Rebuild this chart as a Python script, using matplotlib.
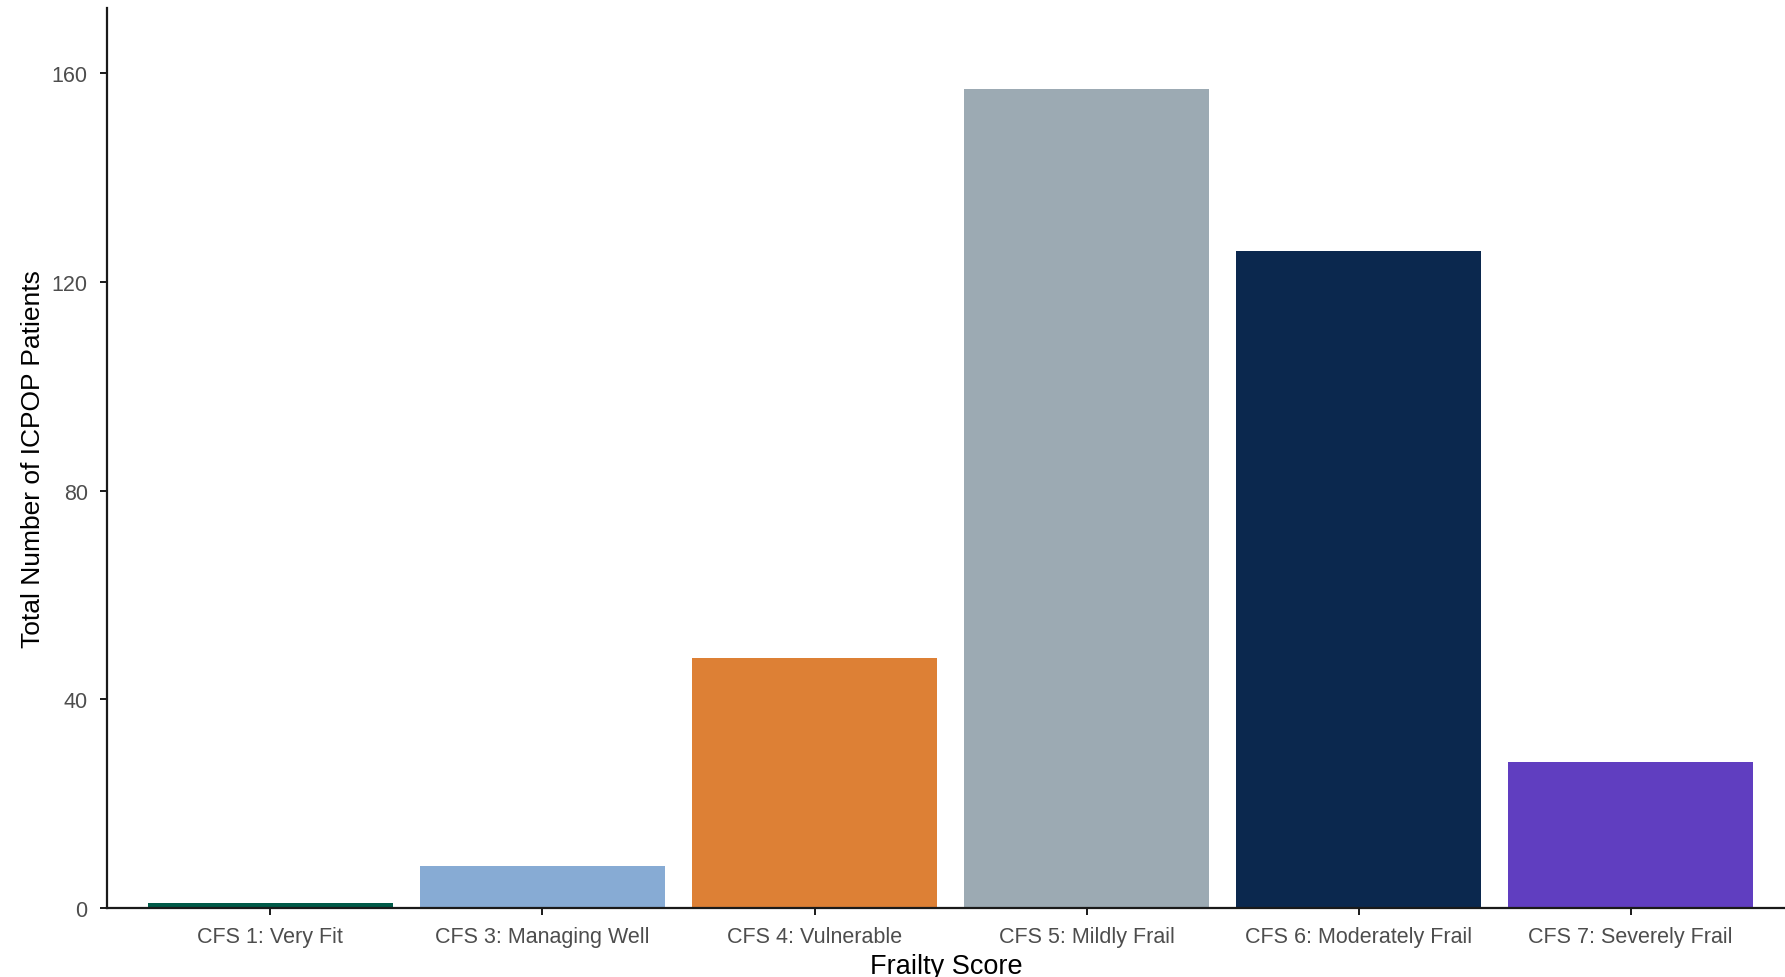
import matplotlib.pyplot as plt
from matplotlib import font_manager

categories = [
    "CFS 1: Very Fit",
    "CFS 3: Managing Well",
    "CFS 4: Vulnerable",
    "CFS 5: Mildly Frail",
    "CFS 6: Moderately Frail",
    "CFS 7: Severely Frail",
]
patients = [1, 8, 48, 157, 126, 28]
bar_colours = ["#005a48", "#87abd4", "#dd8035", "#9caab3", "#0b284e", "#603ec0"]
y_ticks = [0, 40, 80, 120, 160]

plt.rcParams["font.family"] = ["Liberation Sans", "DejaVu Sans"]

# the y title in the original is set in a narrow face
installed = {f.name for f in font_manager.fontManager.ttflist}
if "Liberation Sans Narrow" in installed:
    ylab_font, ylab_size = "Liberation Sans Narrow", 23.6
else:
    ylab_font, ylab_size = "Liberation Sans", 19

fig = plt.figure(figsize=(17.85, 9.78), dpi=100)
ax = fig.add_axes([0.060, 0.0705, 0.940, 0.9203])

positions = range(1, len(categories) + 1)
ax.bar(positions, patients, width=0.9, color=bar_colours)

ax.set_xlim(0.4, 6.567)
ax.set_ylim(0, 172.5)
ax.set_xticks(list(positions))
ax.set_xticklabels(categories)
ax.set_yticks(y_ticks)

ax.spines["top"].set_visible(False)
ax.spines["right"].set_visible(False)
for side in ["left", "bottom"]:
    ax.spines[side].set_linewidth(1.6)
    ax.spines[side].set_color("#1a1a1a")

ax.tick_params(axis="both", colors="#1a1a1a", width=1.4, length=5,
               labelsize=15.5, labelcolor="#4d4d4d")
ax.tick_params(axis="y", pad=9)
ax.tick_params(axis="x", pad=7.7)

ax.set_xlabel("Frailty Score", fontsize=19.5, color="black", labelpad=4.3)
ax.set_ylabel("Total Number of ICPOP Patients", fontsize=ylab_size,
              family=ylab_font, color="black", labelpad=4.5)

fig.savefig("out.png", dpi=100)
